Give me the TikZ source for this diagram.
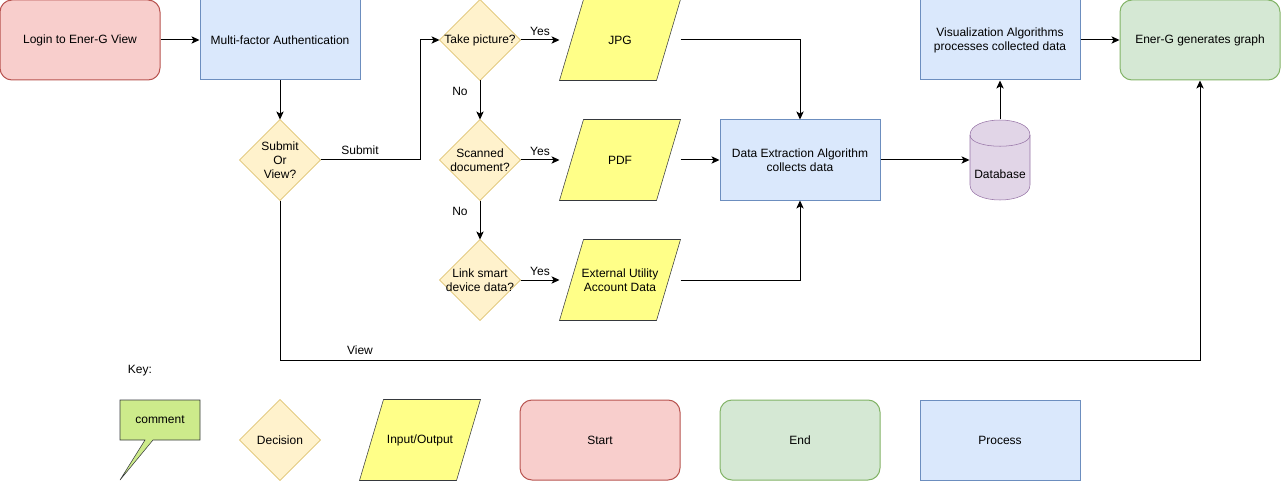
\documentclass[tikz,border=0pt]{standalone}
\usepackage{fontspec}
\setmainfont{Liberation Sans}
\usetikzlibrary{arrows.meta,calc,backgrounds}
\definecolor{startf}{HTML}{F8CECC}\definecolor{startd}{HTML}{B85450}
\definecolor{procf}{HTML}{DAE8FC}\definecolor{procd}{HTML}{6C8EBF}
\definecolor{endf}{HTML}{D5E8D4}\definecolor{endd}{HTML}{82B366}
\definecolor{decf}{HTML}{FFF2CC}\definecolor{decd}{HTML}{D6B656}
\definecolor{iof}{HTML}{FFFF88}\definecolor{iod}{HTML}{36393D}
\definecolor{dbf}{HTML}{E1D5E7}\definecolor{dbd}{HTML}{9673A6}
\definecolor{cmf}{HTML}{CDEB8B}\definecolor{cmd}{HTML}{36393D}
\begin{document}
\begin{tikzpicture}[x=0.75pt,y=-0.75pt,
  font=\fontsize{9}{10.5}\selectfont, line width=0.75pt,
  base/.style={rectangle, minimum width=120pt, minimum height=60pt, inner sep=0pt, align=center},
  startbox/.style={base, draw=startd, fill=startf, rounded corners=9pt},
  endbox/.style={base, draw=endd, fill=endf, rounded corners=9pt},
  procbox/.style={base, draw=procd, fill=procf},
  slot/.style={base, minimum width=90pt},
  dslot/.style={rectangle, minimum size=60pt, inner sep=0pt, align=center},
  decision/.style={draw=decd, fill=decf},
  io/.style={draw=iod, fill=iof},
  arr/.style={-{Stealth[length=6pt,width=5.5pt,inset=1.5pt]}, line width=0.75pt},
  lbl/.style={inner sep=0pt}
]
\useasboundingbox (0,0) rectangle (1281,481);

% main nodes
\node[startbox] (login) at (80,40) {Login to Ener-G View};
\node[procbox] (mfa) at (280,40) {Multi-factor Authentication};
\node[dslot] (sov) at (280,160) {Submit\\Or\\View?};
\node[dslot] (pic) at (480,40) {Take picture?};
\node[dslot] (scan) at (480,160) {Scanned\\document?};
\node[dslot] (link) at (480,280) {Link smart\\device data?};
\node[slot] (jpg) at (620,40) {JPG};
\node[slot] (pdf) at (620,160) {PDF};
\node[slot] (ext) at (620,280) {External Utility\\Account Data};
\node[procbox] (dea) at (800,160) {Data Extraction Algorithm\\collects data};
\node[rectangle, minimum width=45pt, minimum height=60pt, inner sep=0pt] (db) at (1000,160) {};
\node[lbl] (dbt) at (1000,174) {Database};
\node[procbox] (vis) at (1000,40) {Visualization Algorithms\\processes collected data};
\node[endbox] (gen) at (1200,40) {Ener-G generates graph};

% key
\node[lbl] (key) at (140,371) {Key:};
\node[rectangle, minimum width=60pt, minimum height=30pt, inner sep=0pt] (cm) at (160,420) {comment};
\node[dslot] (kdec) at (280,440) {Decision};
\node[slot] (kio) at (420,440) {Input/Output};
\node[startbox] (kstart) at (600,440) {Start};
\node[endbox] (kend) at (800,440) {End};
\node[procbox] (kproc) at (1000,440) {Process};

\begin{scope}[on background layer]
  \foreach \n in {sov,pic,scan,link,kdec}
    \filldraw[decision] (\n.north) -- (\n.east) -- (\n.south) -- (\n.west) -- cycle;
  \foreach \n in {jpg,pdf,ext,kio}
    \filldraw[io] ($(\n.north west)+(24,0)$) -- (\n.north east) -- ($(\n.south east)+(-24,0)$) -- (\n.south west) -- cycle;
  \filldraw[draw=dbd, fill=dbf] (970,135) .. controls (970,115) and (1030,115) .. (1030,135)
    -- (1030,185) .. controls (1030,205) and (970,205) .. (970,185) -- cycle;
  \draw[dbd] (970,135) .. controls (970,150) and (1030,150) .. (1030,135);
  \filldraw[draw=cmd, fill=cmf, line join=miter] (120,400) -- (200,400) -- (200,440) -- (153,440) -- (120,480) -- (145,440) -- (120,440) -- cycle;
\end{scope}

% connectors
\draw[arr] (login) -- (mfa);
\draw[arr] (mfa) -- (sov);
\draw[arr] (sov.east) -- ++(100,0) |- (pic.west);
\node[lbl] (lsub) at (360,150) {Submit};
\draw[arr] (pic) -- (jpg);
\draw[arr] (pic) -- (scan);
\draw[arr] (scan) -- (pdf);
\draw[arr] (scan) -- (link);
\draw[arr] (link) -- (ext);
\node[lbl] (y1) at (540,31) {Yes};
\node[lbl] (y2) at (540,151) {Yes};
\node[lbl] (y3) at (540,271) {Yes};
\node[lbl] (n1) at (460,91) {No};
\node[lbl] (n2) at (460,211) {No};
\draw[arr] (jpg.east) -| (dea.north);
\draw[arr] (pdf) -- (dea);
\draw[arr] (ext.east) -| (dea.south);
\draw[arr] (dea.east) -- (db.west);
\draw[arr] (db.north) -- (vis.south);
\draw[arr] (vis) -- (gen);
\draw[arr] (sov.south) -- ++(0,160) -| (gen.south);
\node[lbl] (lview) at (360,350) {View};
\end{tikzpicture}
\end{document}
